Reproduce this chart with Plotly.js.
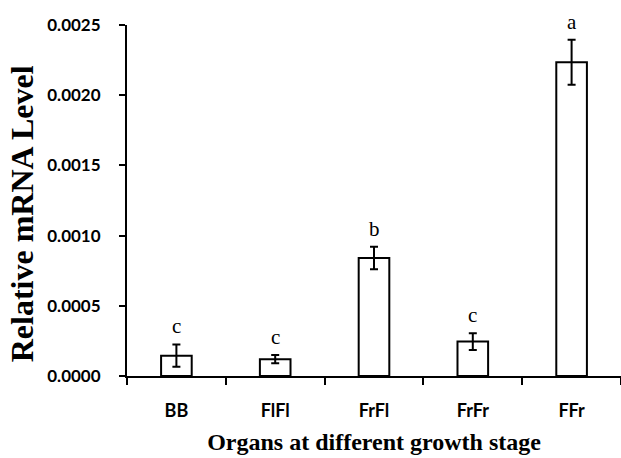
<!DOCTYPE html>
<html>
<head>
<meta charset="utf-8">
<script src="https://cdn.plot.ly/plotly-3.0.1.min.js"></script>
<style>html,body{margin:0;padding:0;background:#fff;}#chart{width:621px;height:458px;}</style>
</head>
<body>
<div id="chart"></div>
<script>
const categories = ["BB", "FlFl", "FrFl", "FrFr", "FFr"];
const values = [0.000145, 0.00012, 0.00084, 0.000245, 0.002235];
const errors = [0.00008, 0.00003, 0.00008, 0.00006, 0.00016];
const letters = ["c", "c", "b", "c", "a"];
const yTicks = [0, 0.0005, 0.0010, 0.0015, 0.0020, 0.0025];
const xTitle = "Organs at different growth stage";
const yTitle = "Relative mRNA Level";

const trace = {
  type: "bar",
  x: categories,
  y: values,
  width: 0.31,
  marker: {color: "#ffffff", line: {color: "#000000", width: 2}},
  error_y: {type: "data", array: errors, visible: true, color: "#000000", thickness: 2, width: 4},
  hoverinfo: "none"
};

const annotations = categories.map((c, i) => ({
  x: c, y: values[i] + errors[i], xref: "x", yref: "y",
  text: letters[i], showarrow: false, yanchor: "bottom", yshift: 4,
  font: {family: "Liberation Serif, Times New Roman, serif", size: 21, color: "#000"}
}));
annotations.push({
  xref: "paper", yref: "paper", x: -0.211, y: 0.463,
  text: yTitle, textangle: -90, showarrow: false,
  xanchor: "center", yanchor: "middle",
  font: {family: "Liberation Serif, Times New Roman, serif", size: 32, color: "#000", weight: "bold"}
});

const layout = {
  width: 621, height: 458,
  margin: {l: 127, r: 0, t: 25, b: 82, pad: 0},
  paper_bgcolor: "#ffffff", plot_bgcolor: "#ffffff",
  showlegend: false,
  xaxis: {
    type: "category",
    range: [-0.5, 4.5],
    showline: true, linecolor: "#000", linewidth: 2,
    ticks: "outside", tickson: "boundaries", ticklen: 7, tickwidth: 2, tickcolor: "#000",
    showgrid: false, zeroline: false,
    ticklabelstandoff: 17,
    tickfont: {family: "Lato, sans-serif", size: 18, color: "#000", weight: "bold"},
    title: {text: xTitle, standoff: 14,
      font: {family: "Liberation Serif, Times New Roman, serif", size: 24, color: "#000", weight: "bold"}}
  },
  yaxis: {
    range: [0, 0.0025],
    tickvals: yTicks,
    tickformat: ".4f",
    showline: true, linecolor: "#000", linewidth: 2,
    ticks: "outside", ticklen: 6, tickwidth: 2, tickcolor: "#000",
    showgrid: false, zeroline: false,
    ticklabelstandoff: 15,
    tickfont: {family: "Lato, sans-serif", size: 17, color: "#000", weight: "bold"}
  },
  annotations: annotations
};

Plotly.newPlot("chart", [trace], layout, {displayModeBar: false, staticPlot: true});
</script>
</body>
</html>
